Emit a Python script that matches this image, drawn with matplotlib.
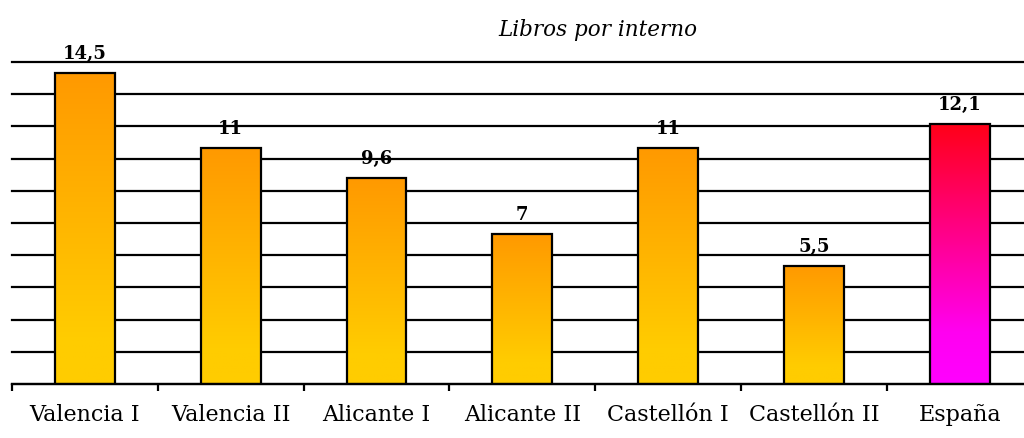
import numpy as np
import matplotlib
matplotlib.use('Agg')
import matplotlib.pyplot as plt
from matplotlib.colors import LinearSegmentedColormap

# Datos
centros = ['Valencia I', 'Valencia II', 'Alicante I', 'Alicante II',
           'Castellón I', 'Castellón II', 'España']
libros = [14.5, 11, 9.6, 7, 11, 5.5, 12.1]
etiquetas = ['14,5', '11', '9,6', '7', '11', '5,5', '12,1']

plt.rcParams['font.family'] = ['DejaVu Serif']

fig = plt.figure(figsize=(10.24, 4.39), dpi=100)
ax = fig.add_axes([12 / 1024, 54 / 439, 1020.6 / 1024, 322 / 439])

# Degradados (de abajo hacia arriba)
cmap_nar = LinearSegmentedColormap.from_list(
    'nar', [(0, '#FFCC00'), (0.15, '#FFCC00'), (1, '#FF9900')])
cmap_esp = LinearSegmentedColormap.from_list(
    'esp', [(0, '#FF00FF'), (0.2, '#FF00F0'), (1, '#FF0018')])

x = np.arange(len(centros))
ancho = 0.41
barras = ax.bar(x, libros, width=ancho, color='none', edgecolor='black',
                linewidth=1.6, zorder=3)

grad = np.linspace(0, 1, 256).reshape(-1, 1)
for i, b in enumerate(barras):
    cmap = cmap_esp if centros[i] == 'España' else cmap_nar
    x0, y0 = b.get_x(), b.get_y()
    im = ax.imshow(grad, cmap=cmap, origin='lower', aspect='auto',
                   extent=[x0, x0 + b.get_width(), y0, y0 + b.get_height()],
                   zorder=2)
    im.set_clip_path(b)

for i, v in enumerate(libros):
    ax.annotate(etiquetas[i], (x[i], v), xytext=(0, 8), textcoords='offset points',
                ha='center', va='bottom', fontsize=13, fontweight='bold')

ax.set_xlim(-0.5, len(centros) - 0.5)
ax.set_ylim(0, 15)
ax.set_yticks(np.arange(0, 15.01, 1.5))
ax.yaxis.grid(True, color='black', linewidth=1.6, zorder=1)
for linea in ax.get_ygridlines():
    linea.set_clip_on(False)
ax.tick_params(axis='y', left=False, labelleft=False)
ax.set_xticks(x)
ax.set_xticklabels(centros, fontsize=16)
ax.set_xticks(np.arange(-0.5, len(centros), 1), minor=True)
ax.tick_params(axis='x', which='major', length=0, pad=14)
ax.tick_params(axis='x', which='minor', length=5, width=1.6, color='black')
for s in ['left', 'right', 'top']:
    ax.spines[s].set_visible(False)
ax.spines['bottom'].set_linewidth(1.6)

fig.text(598 / 1024, 1 - 30 / 439, 'Libros por interno', ha='center', va='center',
         fontsize=15.5, fontstyle='italic')

fig.savefig('out.png', dpi=100)
